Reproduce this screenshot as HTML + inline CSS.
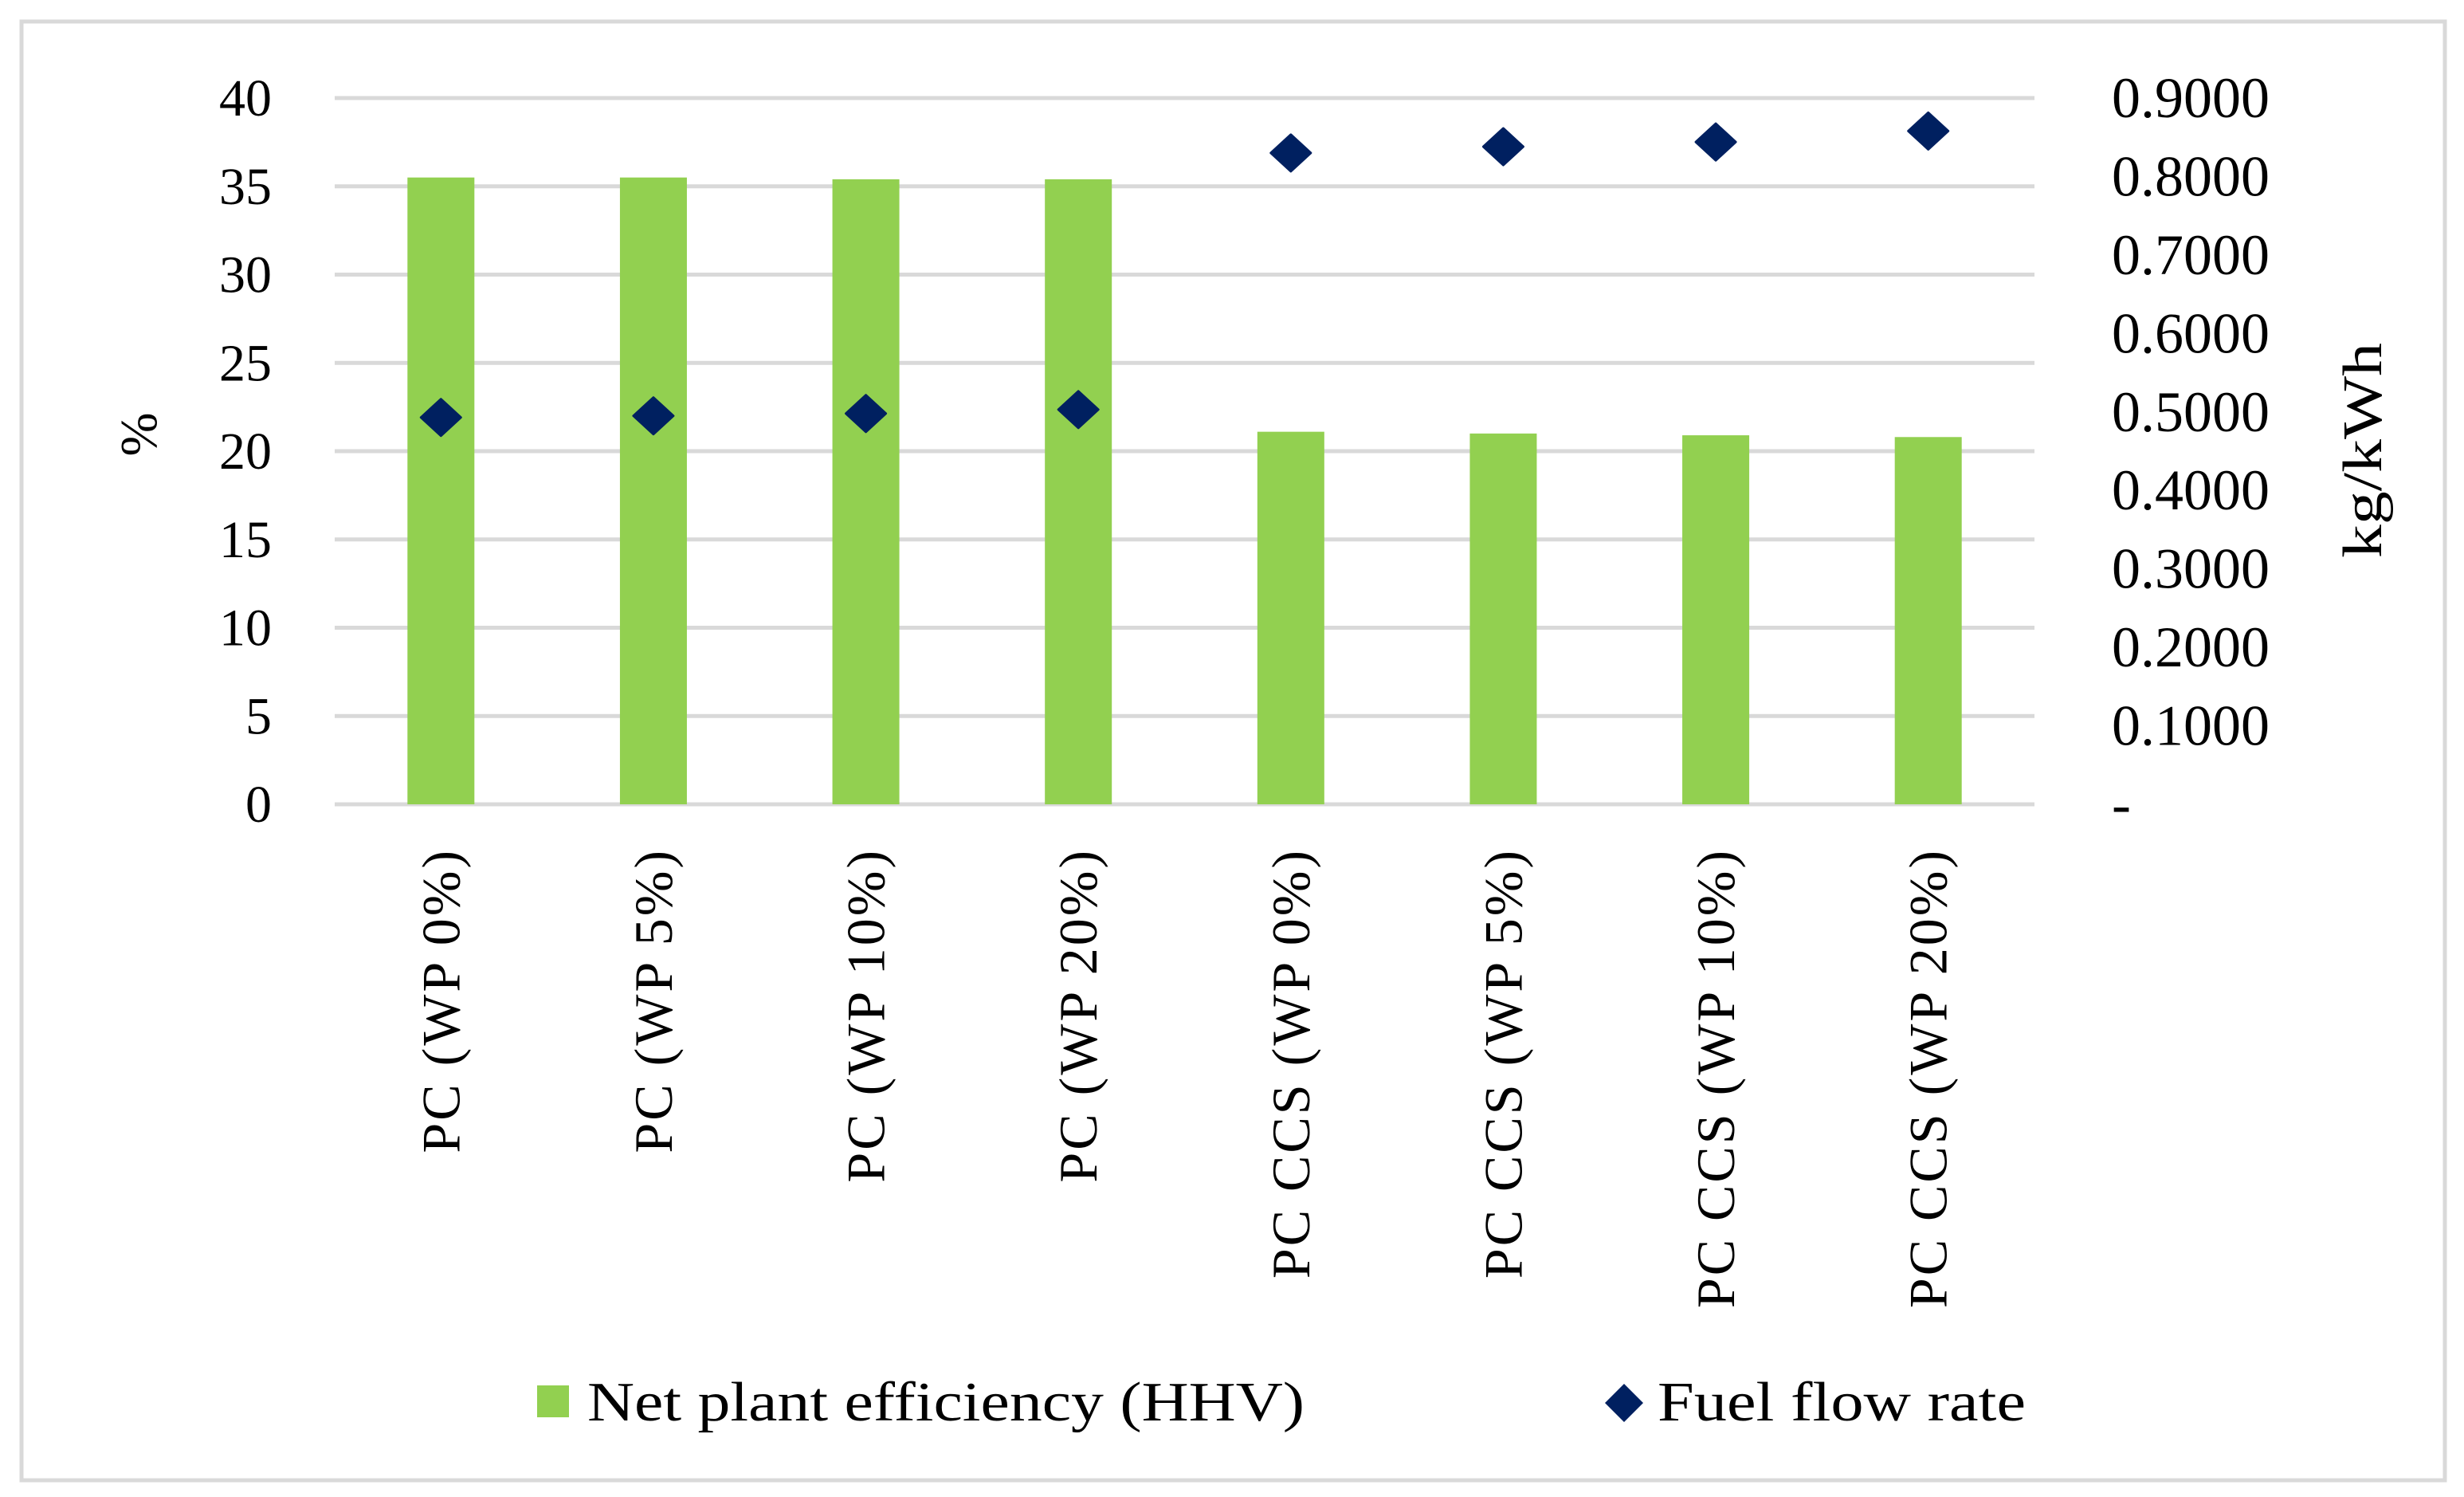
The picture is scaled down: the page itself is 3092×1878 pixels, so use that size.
<!DOCTYPE html>
<html><head><meta charset="utf-8">
<style>
html,body{margin:0;padding:0;background:#fff;}
svg{display:block;font-family:"Liberation Serif",serif;}
</style></head>
<body>
<svg id="chart" width="3092" height="1878" viewBox="0 0 3092 1878" xmlns="http://www.w3.org/2000/svg">
<rect x="27" y="27" width="3041" height="1830" fill="#fff" stroke="#d9d9d9" stroke-width="5"/>
<g id="grid"></g>
<g id="bars"></g>
<g id="points"></g>
<g id="ticks"></g>
<text transform="translate(196,545) rotate(-90)" text-anchor="middle" font-size="66">%</text>
<text transform="translate(2988,565) rotate(-90)" text-anchor="middle" font-size="70" textLength="270" lengthAdjust="spacingAndGlyphs">kg/kWh</text>
<g>
<rect x="674" y="1738" width="40" height="40" fill="#92d050"/>
<text x="737" y="1782" font-size="70" textLength="900" lengthAdjust="spacingAndGlyphs">Net plant efficiency (HHV)</text>
<path d="M2038,1736 L2062,1760 L2038,1784 L2014,1760 Z" fill="#002060"/>
<text x="2080" y="1782" font-size="70" textLength="462" lengthAdjust="spacingAndGlyphs">Fuel flow rate</text>
</g>
</svg>
<script>
const categories = ["PC (WP 0%)","PC (WP 5%)","PC (WP 10%)","PC (WP 20%)","PC CCS (WP 0%)","PC CCS (WP 5%)","PC CCS (WP 10%)","PC CCS (WP 20%)"];
const efficiency = [35.5,35.5,35.4,35.4,21.1,21.0,20.9,20.8];
const fuelFlow = [0.493,0.495,0.498,0.503,0.830,0.838,0.844,0.858];
const leftTicks = [0,5,10,15,20,25,30,35,40];
const rightTicks = ["-","0.1000","0.2000","0.3000","0.4000","0.5000","0.6000","0.7000","0.8000","0.9000"];

const NS = "http://www.w3.org/2000/svg";
const X0 = 420, X1 = 2553, Y0 = 1009, Y1 = 123;
const band = (X1 - X0) / categories.length;
function xc(i){ return X0 + band * (i + 0.5); }
function yL(v){ return Y0 - (v / 40) * (Y0 - Y1); }
function yR(v){ return Y0 - (v / 0.9) * (Y0 - Y1); }
function mk(tag, attrs, parent){ const e = document.createElementNS(NS, tag); for (const k in attrs) e.setAttribute(k, attrs[k]); parent.appendChild(e); return e; }

const grid = document.getElementById('grid');
const ticks = document.getElementById('ticks');
leftTicks.forEach(v => {
  const l = mk('line', {x1:X0, x2:X1, y1:yL(v), y2:yL(v), stroke:'#d9d9d9', 'stroke-width':5}, grid);
  
  
  const t = mk('text', {x:341, y:yL(v)+22, 'text-anchor':'end', 'font-size':66}, ticks);
  t.textContent = v;
  
  
});
rightTicks.forEach((s, i) => {
  const v = i * 0.1;
  const t = mk('text', {x:2650, y:yR(v)+24, 'font-size':72}, ticks);
  t.textContent = s;
  
  
});
const bars = document.getElementById('bars');
const pts = document.getElementById('points');
const bw = 84;
categories.forEach((c, i) => {
  const b = mk('rect', {x:xc(i)-bw/2, y:yL(efficiency[i]), width:bw, height:Y0-yL(efficiency[i]), fill:'#92d050'}, bars);
  
  
  const cx = xc(i), cy = yR(fuelFlow[i]);
  const p = mk('path', {d:`M${cx},${cy-23} L${cx+25},${cy} L${cx},${cy+23} L${cx-25},${cy} Z`, fill:'#002060', stroke:'#002060', 'stroke-width':3, 'stroke-linejoin':'round'}, pts);
  
  
  const t = mk('text', {transform:`translate(${cx+23},1064) rotate(-90)`, 'text-anchor':'end', 'font-size':68, 'letter-spacing':'3'}, ticks);
  t.textContent = c;
  
  
});
</script>
</body></html>
